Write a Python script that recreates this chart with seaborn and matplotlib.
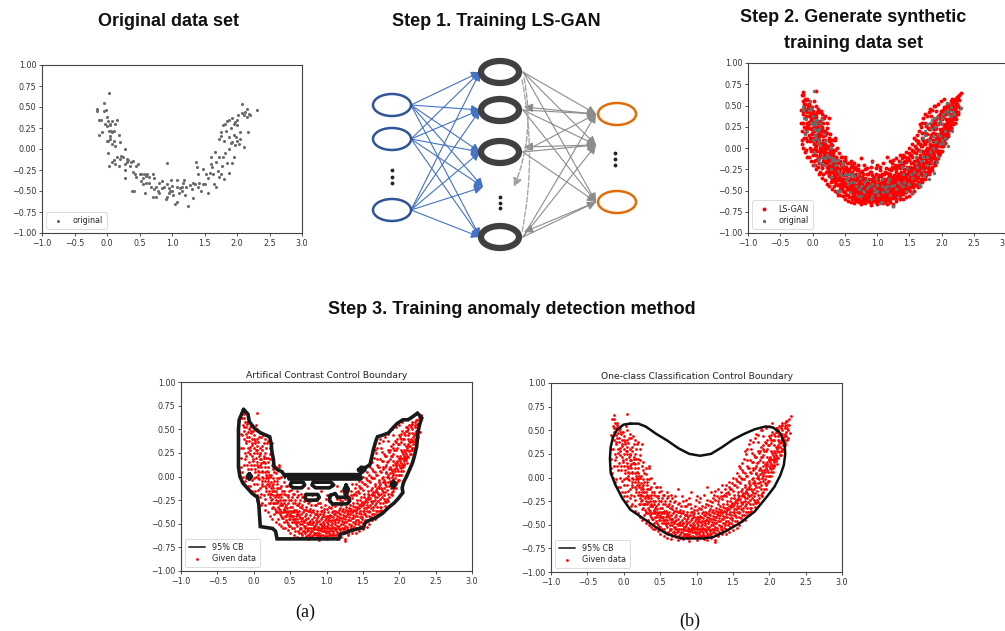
import numpy as np
import pandas as pd
import seaborn as sns
import matplotlib
matplotlib.use("Agg")
import matplotlib.pyplot as plt
from matplotlib.patches import Ellipse, FancyArrowPatch

# ---------------- data ----------------
orig_points = [
(-0.15,0.48),(-0.15,0.45),(-0.13,0.35),(-0.10,0.34),(-0.12,0.17),(-0.08,0.20),(-0.05,0.45),(-0.04,0.55),(-0.02,0.47),(0.00,0.38),
(0.03,0.67),(-0.03,0.30),(0.00,0.27),(0.02,0.33),(0.04,0.30),(0.05,0.28),(0.07,0.33),(0.03,0.22),(0.06,0.21),(0.08,0.20),
(0.04,0.15),(0.02,0.10),(0.00,0.10),(0.05,0.12),(0.10,0.10),(0.08,0.06),(0.12,0.04),(0.15,0.34),(0.18,0.17),(0.20,0.08),
(0.02,-0.05),(0.03,-0.20),(0.08,-0.15),(0.10,-0.13),(0.13,-0.18),(0.15,-0.10),(0.18,-0.20),(0.20,-0.12),(0.22,-0.08),(0.25,-0.10),
(0.27,-0.18),(0.28,-0.25),(0.28,-0.34),(0.30,-0.15),(0.28,0.00),(0.31,-0.12),(0.33,-0.13),(0.35,-0.20),(0.37,-0.15),(0.40,-0.14),
(0.38,-0.50),(0.42,-0.50),(0.40,-0.27),(0.43,-0.30),(0.45,-0.20),(0.45,-0.33),(0.48,-0.18),(0.50,-0.30),(0.52,-0.38),(0.53,-0.30),
(0.55,-0.35),(0.55,-0.42),(0.57,-0.30),(0.60,-0.32),(0.58,-0.52),(0.62,-0.30),(0.65,-0.33),(0.65,-0.40),(0.68,-0.45),(0.70,-0.30),
(0.70,-0.57),(0.72,-0.48),(0.73,-0.35),(0.75,-0.57),(0.75,-0.45),(0.78,-0.50),(0.80,-0.52),(0.80,-0.40),(0.85,-0.38),(0.88,-0.45),
(0.90,-0.60),(0.92,-0.42),(0.92,-0.57),(0.93,-0.17),(0.95,-0.47),(0.95,-0.52),(0.97,-0.50),(0.98,-0.37),(1.00,-0.50),(1.00,-0.44),
(1.02,-0.55),(1.05,-0.65),(1.07,-0.63),(1.07,-0.37),(1.08,-0.45),(1.10,-0.52),(1.12,-0.47),(1.15,-0.45),(1.17,-0.40),(1.18,-0.37),
(1.20,-0.55),(1.22,-0.45),(1.25,-0.68),(1.27,-0.43),(1.30,-0.48),(1.32,-0.40),(1.33,-0.58),(1.35,-0.42),(1.37,-0.16),(1.38,-0.22),
(1.40,-0.30),(1.42,-0.40),(1.45,-0.50),(1.47,-0.24),(1.48,-0.42),(1.50,-0.42),(1.52,-0.30),(1.55,-0.52),(1.55,-0.35),(1.58,-0.28),
(1.60,-0.10),(1.60,-0.18),(1.62,-0.22),(1.63,-0.30),(1.65,-0.42),(1.66,-0.04),(1.67,-0.45),(1.68,-0.15),(1.70,-0.26),(1.72,-0.10),
(1.73,-0.33),(1.75,0.15),(1.75,0.20),(1.77,-0.20),(1.78,-0.10),(1.78,0.28),(1.80,-0.36),(1.80,0.10),(1.82,0.30),(1.82,-0.05),
(1.83,0.22),(1.85,0.33),(1.85,-0.17),(1.87,0.00),(1.87,0.14),(1.88,0.35),(1.88,-0.29),(1.90,0.07),(1.90,0.25),(1.92,0.08),
(1.93,0.37),(1.93,-0.17),(1.95,0.17),(1.95,0.30),(1.97,0.05),(1.97,0.32),(2.00,0.28),(2.00,0.10),(2.02,0.40),(2.03,0.06),
(2.05,0.12),(2.05,0.20),(2.07,0.43),(2.08,0.53),(2.10,0.40),(2.10,0.02),(2.12,0.44),(2.15,0.48),(2.15,0.38),(2.17,0.20),
(2.18,0.42),(2.20,0.40),(2.30,0.47),(1.98,0.14),(2.00,0.35),(1.72,0.12),(1.75,-0.30),(1.95,-0.10),(0.10,0.22),(0.12,0.30),
(0.60,-0.40),(0.85,-0.47),(1.15,-0.50),(1.40,-0.45),
]

gan_points_a = [
(-0.16,0.62),(-0.15,0.55),(-0.14,0.66),(-0.13,0.48),(-0.12,0.58),(-0.14,0.40),
(-0.11,0.52),(-0.10,0.45),(-0.09,0.56),(-0.11,0.35),(-0.08,0.30),(-0.10,0.22),(-0.07,0.50),(-0.09,0.42),(-0.12,0.18),
(-0.06,0.38),(-0.05,0.28),(-0.04,0.46),(-0.06,0.15),(-0.03,0.33),(-0.05,0.52),(-0.04,0.08),(-0.02,0.22),(-0.06,0.42),(-0.03,0.40),
(0.00,0.30),(-0.01,0.18),(0.01,0.40),(0.02,0.05),(0.00,0.25),(0.01,0.12),(-0.01,0.48),(0.02,0.35),(0.00,-0.02),(0.03,0.20),(0.04,0.28),
(0.05,0.15),(0.06,0.02),(0.04,0.32),(0.07,0.22),(0.05,-0.08),(0.06,0.10),(0.08,0.30),(0.05,0.40),(0.07,0.05),(0.08,0.18),(0.06,-0.02),
(0.10,0.10),(0.11,0.00),(0.09,0.25),(0.12,-0.10),(0.10,0.18),(0.12,0.05),(0.11,-0.05),(0.13,0.15),(0.09,-0.12),(0.12,0.28),
(0.15,0.05),(0.16,-0.05),(0.14,0.15),(0.17,-0.15),(0.15,-0.10),(0.16,0.10),(0.18,0.00),(0.14,-0.20),(0.17,0.20),(0.18,-0.08),
(0.20,-0.05),(0.21,-0.15),(0.19,0.05),(0.22,-0.22),(0.20,0.10),(0.23,0.00),(0.21,-0.10),(0.24,-0.18),(0.22,-0.28),(0.20,-0.02),
(0.25,-0.10),(0.26,-0.20),(0.24,0.02),(0.27,-0.28),(0.25,-0.15),(0.28,-0.05),(0.26,-0.32),(0.27,-0.12),(0.29,-0.22),(0.24,-0.06),
(0.30,-0.15),(0.31,-0.25),(0.32,-0.05),(0.33,-0.32),(0.30,-0.20),(0.34,-0.12),(0.31,-0.38),(0.33,-0.22),(0.35,0.10),(0.32,-0.28),
(0.35,-0.20),(0.36,-0.30),(0.37,-0.10),(0.38,-0.38),(0.36,-0.25),(0.39,-0.15),(0.37,-0.42),(0.38,-0.28),(0.35,-0.34),
(0.40,-0.25),(0.41,-0.35),(0.42,-0.15),(0.43,-0.42),(0.41,-0.28),(0.44,-0.20),(0.42,-0.48),(0.43,-0.32),(0.40,-0.38),(0.44,-0.10),
(0.45,-0.30),(0.46,-0.40),(0.47,-0.20),(0.48,-0.45),(0.46,-0.33),(0.49,-0.25),(0.47,-0.50),(0.48,-0.36),(0.45,-0.42),(0.49,-0.15),
(0.50,-0.32),(0.51,-0.42),(0.52,-0.22),(0.53,-0.48),(0.51,-0.36),(0.54,-0.28),(0.52,-0.55),(0.53,-0.38),(0.50,-0.45),(0.54,-0.18),
(0.55,-0.35),(0.56,-0.45),(0.57,-0.25),(0.58,-0.50),(0.56,-0.38),(0.59,-0.30),(0.57,-0.58),(0.58,-0.42),(0.55,-0.48),(0.59,-0.22),
(0.60,-0.38),(0.61,-0.48),(0.62,-0.28),(0.63,-0.55),(0.61,-0.40),(0.64,-0.32),(0.62,-0.60),(0.63,-0.44),(0.60,-0.52),(0.64,-0.25),
(0.65,-0.40),(0.66,-0.50),(0.67,-0.30),(0.68,-0.58),(0.66,-0.44),(0.69,-0.35),(0.67,-0.62),(0.68,-0.47),(0.65,-0.54),(0.69,-0.26),
(0.70,-0.42),(0.71,-0.52),(0.72,-0.32),(0.73,-0.58),(0.71,-0.46),(0.74,-0.37),(0.72,-0.63),(0.73,-0.49),(0.70,-0.55),(0.74,-0.28),
(0.75,-0.44),(0.76,-0.54),(0.77,-0.34),(0.78,-0.60),(0.76,-0.48),(0.79,-0.38),(0.77,-0.64),(0.78,-0.50),(0.75,-0.57),(0.79,-0.30),
(0.80,-0.45),(0.81,-0.55),(0.82,-0.35),(0.83,-0.60),(0.81,-0.48),(0.84,-0.40),(0.82,-0.62),(0.83,-0.52),(0.80,-0.58),(0.84,-0.30),
(0.85,-0.46),(0.86,-0.56),(0.87,-0.36),(0.88,-0.62),(0.86,-0.50),(0.89,-0.42),(0.87,-0.60),(0.88,-0.53),(0.85,-0.40),(0.89,-0.28),
(0.90,-0.47),(0.91,-0.57),(0.92,-0.37),(0.93,-0.62),(0.91,-0.50),(0.94,-0.43),(0.92,-0.55),(0.93,-0.32),(0.90,-0.60),(0.94,-0.52),
(0.95,-0.48),(0.96,-0.58),(0.97,-0.38),(0.98,-0.63),(0.96,-0.52),(0.99,-0.44),(0.97,-0.55),(0.98,-0.30),(0.95,-0.40),(0.99,-0.60),
(1.00,-0.48),(1.01,-0.58),(1.02,-0.38),(1.03,-0.62),(1.01,-0.52),(1.04,-0.44),(1.02,-0.55),(1.03,-0.32),(1.00,-0.42),(1.04,-0.60),
(1.05,-0.47),(1.06,-0.57),(1.07,-0.38),(1.08,-0.62),(1.06,-0.51),(1.09,-0.43),(1.07,-0.55),(1.08,-0.30),(1.05,-0.41),(1.09,-0.60),
(1.10,-0.46),(1.11,-0.56),(1.12,-0.36),(1.13,-0.62),(1.11,-0.50),(1.14,-0.42),(1.12,-0.54),(1.13,-0.28),(1.10,-0.40),(1.14,-0.59),
(1.15,-0.45),(1.16,-0.55),(1.17,-0.35),(1.18,-0.60),(1.16,-0.48),(1.19,-0.40),(1.17,-0.52),(1.18,-0.25),(1.15,-0.38),(1.19,-0.57),
(1.20,-0.44),(1.21,-0.54),(1.22,-0.34),(1.23,-0.58),(1.21,-0.47),(1.24,-0.38),(1.22,-0.50),(1.23,-0.22),(1.20,-0.30),(1.24,-0.56),
(1.25,-0.42),(1.26,-0.52),(1.27,-0.32),(1.28,-0.56),(1.26,-0.45),(1.29,-0.36),(1.27,-0.48),(1.28,-0.20),(1.25,-0.66),(1.29,-0.28),
(1.30,-0.40),(1.31,-0.50),(1.32,-0.30),(1.33,-0.55),(1.31,-0.43),(1.34,-0.34),(1.32,-0.46),(1.33,-0.20),(1.30,-0.25),(1.34,-0.52),
(1.35,-0.38),(1.36,-0.48),(1.37,-0.28),(1.38,-0.53),(1.36,-0.41),(1.39,-0.32),(1.37,-0.44),(1.38,-0.18),(1.35,-0.23),(1.39,-0.50),
(1.40,-0.36),(1.41,-0.46),(1.42,-0.25),(1.43,-0.50),(1.41,-0.39),(1.44,-0.30),(1.42,-0.42),(1.43,-0.15),(1.40,-0.20),(1.44,-0.48),
(1.45,-0.33),(1.46,-0.43),(1.47,-0.22),(1.48,-0.48),(1.46,-0.36),(1.49,-0.27),(1.47,-0.40),(1.48,-0.12),(1.45,-0.17),(1.49,-0.45),
(1.50,-0.30),(1.51,-0.40),(1.52,-0.18),(1.53,-0.46),(1.51,-0.33),(1.54,-0.24),(1.52,-0.36),(1.53,-0.08),(1.50,-0.14),(1.54,-0.42),
(1.55,-0.27),(1.56,-0.37),(1.57,-0.15),(1.58,-0.42),(1.56,-0.30),(1.59,-0.20),(1.57,-0.32),(1.58,-0.05),(1.55,-0.10),(1.59,-0.38),
(1.60,-0.23),(1.61,-0.33),(1.62,-0.12),(1.63,-0.40),(1.61,-0.26),(1.64,-0.16),(1.62,-0.28),(1.63,-0.02),(1.60,-0.06),(1.64,-0.35),
(1.65,-0.20),(1.66,-0.30),(1.67,-0.08),(1.68,-0.36),(1.66,-0.22),(1.69,-0.12),(1.67,-0.25),(1.68,0.02),(1.65,-0.02),(1.69,-0.32),
(1.70,-0.16),(1.71,-0.26),(1.72,-0.04),(1.73,-0.32),(1.71,-0.18),(1.74,-0.08),(1.72,-0.20),(1.73,0.06),(1.70,0.02),(1.74,-0.28),(1.72,0.10),
(1.75,-0.12),(1.76,-0.22),(1.77,0.00),(1.78,-0.28),(1.76,-0.14),(1.79,-0.04),(1.77,-0.16),(1.78,0.10),(1.75,0.05),(1.79,-0.24),(1.77,0.16),
(1.80,-0.06),(1.81,-0.16),(1.82,0.05),(1.83,-0.24),(1.81,-0.08),(1.84,0.02),(1.82,-0.10),(1.83,0.15),(1.80,0.10),(1.84,-0.18),(1.82,0.22),
(1.85,0.00),(1.86,-0.10),(1.87,0.10),(1.88,-0.18),(1.86,-0.02),(1.89,0.08),(1.87,-0.05),(1.88,0.22),(1.85,0.16),(1.89,-0.12),(1.87,0.28),
(1.90,0.06),(1.91,-0.04),(1.92,0.16),(1.93,-0.12),(1.91,0.04),(1.94,0.14),(1.92,0.02),(1.93,0.28),(1.90,0.22),(1.94,-0.06),(1.92,0.34),
(1.95,0.12),(1.96,0.02),(1.97,0.22),(1.98,-0.04),(1.96,0.10),(1.99,0.20),(1.97,0.08),(1.98,0.34),(1.95,0.28),(1.99,0.02),(1.97,0.40),
(2.00,0.18),(2.01,0.10),(2.02,0.28),(2.02,0.06),(2.01,0.16),(2.04,0.26),(2.02,0.14),(2.03,0.40),(2.00,0.34),(2.03,0.09),(2.02,0.45),
(2.05,0.24),(2.06,0.16),(2.07,0.34),(2.07,0.13),(2.06,0.22),(2.09,0.32),(2.07,0.20),(2.08,0.44),(2.05,0.40),(2.09,0.48),
(2.10,0.30),(2.11,0.22),(2.12,0.40),(2.12,0.21),(2.11,0.28),(2.14,0.38),(2.12,0.50),(2.13,0.46),(2.10,0.52),
(2.15,0.36),(2.16,0.28),(2.17,0.46),(2.18,0.30),(2.16,0.54),(2.19,0.42),(2.17,0.56),(2.18,0.50),
(2.20,0.44),(2.21,0.36),(2.22,0.52),(2.21,0.58),(2.23,0.48),(2.22,0.40),(2.24,0.56),
(2.26,0.50),(2.28,0.47),(2.30,0.65),(2.25,0.60),
(0.05,0.67),(0.35,0.12),(0.93,-0.15),(1.25,-0.68),
]

gan_points_b = [
(-0.145,0.30),(-0.135,0.52),(-0.155,0.44),(-0.125,0.25),(-0.14,0.62),
(-0.095,0.12),(-0.085,0.26),(-0.105,0.38),(-0.075,0.47),(-0.09,0.58),(-0.08,0.08),
(-0.045,0.00),(-0.035,0.12),(-0.055,0.24),(-0.025,0.35),(-0.04,0.48),(-0.03,-0.04),(-0.05,0.31),
(0.005,-0.08),(0.015,0.08),(-0.005,0.16),(0.025,0.28),(0.01,0.44),(0.035,0.00),(0.02,0.38),(0.045,0.12),
(0.055,-0.14),(0.065,0.06),(0.045,0.25),(0.075,-0.03),(0.06,0.36),(0.085,0.12),(0.07,0.42),(0.09,0.24),
(0.105,-0.18),(0.115,0.06),(0.095,0.14),(0.125,-0.02),(0.11,0.32),(0.135,0.20),(0.12,-0.08),(0.14,0.35),
(0.155,-0.24),(0.165,0.02),(0.145,0.22),(0.175,-0.12),(0.16,0.14),(0.185,0.06),(0.17,-0.02),(0.19,-0.18),
(0.205,-0.28),(0.215,-0.08),(0.195,0.15),(0.225,-0.18),(0.21,0.02),(0.235,-0.12),(0.22,0.18),(0.24,-0.25),
(0.255,-0.33),(0.265,-0.02),(0.245,-0.24),(0.275,-0.15),(0.26,0.08),(0.285,-0.28),(0.27,-0.08),(0.29,-0.34),
(0.305,-0.36),(0.315,-0.08),(0.295,-0.28),(0.325,-0.18),(0.31,0.04),(0.335,-0.26),(0.32,-0.12),(0.34,-0.38),
(0.355,-0.40),(0.365,-0.12),(0.345,-0.02),(0.375,-0.22),(0.36,-0.35),(0.385,-0.30),(0.37,-0.18),(0.39,-0.44),
(0.405,-0.44),(0.415,-0.18),(0.395,-0.30),(0.425,-0.25),(0.41,-0.06),(0.435,-0.38),(0.42,-0.34),(0.44,-0.46),
(0.455,-0.48),(0.465,-0.22),(0.445,-0.36),(0.475,-0.28),(0.46,-0.10),(0.485,-0.42),(0.47,-0.38),(0.49,-0.52),
(0.505,-0.52),(0.515,-0.25),(0.495,-0.40),(0.525,-0.32),(0.51,-0.14),(0.535,-0.45),(0.52,-0.42),(0.54,-0.36),
(0.555,-0.55),(0.565,-0.28),(0.545,-0.42),(0.575,-0.35),(0.56,-0.18),(0.585,-0.48),(0.57,-0.45),(0.59,-0.40),
(0.605,-0.58),(0.615,-0.30),(0.595,-0.45),(0.625,-0.36),(0.61,-0.20),(0.635,-0.50),(0.62,-0.42),(0.64,-0.56),
(0.655,-0.60),(0.665,-0.33),(0.645,-0.47),(0.675,-0.38),(0.66,-0.22),(0.685,-0.52),(0.67,-0.44),(0.69,-0.58),
(0.705,-0.60),(0.715,-0.35),(0.695,-0.48),(0.725,-0.40),(0.71,-0.25),(0.735,-0.54),(0.72,-0.45),(0.74,-0.62),
(0.755,-0.62),(0.765,-0.37),(0.745,-0.50),(0.775,-0.41),(0.76,-0.27),(0.785,-0.55),(0.77,-0.47),(0.79,-0.58),
(0.805,-0.63),(0.815,-0.38),(0.795,-0.50),(0.825,-0.43),(0.81,-0.25),(0.835,-0.56),(0.82,-0.48),(0.84,-0.60),
(0.855,-0.62),(0.865,-0.40),(0.845,-0.52),(0.875,-0.44),(0.86,-0.30),(0.885,-0.57),(0.87,-0.48),(0.89,-0.64),
(0.905,-0.63),(0.915,-0.40),(0.895,-0.54),(0.925,-0.45),(0.91,-0.28),(0.935,-0.58),(0.92,-0.50),(0.94,-0.36),
(0.955,-0.62),(0.965,-0.42),(0.945,-0.55),(0.975,-0.46),(0.96,-0.34),(0.985,-0.58),(0.97,-0.50),(0.99,-0.24),
(1.005,-0.63),(1.015,-0.42),(0.995,-0.55),(1.025,-0.46),(1.01,-0.34),(1.035,-0.58),(1.02,-0.50),(1.04,-0.26),
(1.055,-0.62),(1.065,-0.42),(1.045,-0.54),(1.075,-0.46),(1.06,-0.33),(1.085,-0.58),(1.07,-0.49),(1.09,-0.36),
(1.105,-0.62),(1.115,-0.40),(1.095,-0.53),(1.125,-0.45),(1.11,-0.31),(1.135,-0.57),(1.12,-0.48),(1.14,-0.24),
(1.155,-0.61),(1.165,-0.39),(1.145,-0.52),(1.175,-0.43),(1.16,-0.29),(1.185,-0.56),(1.17,-0.46),(1.19,-0.33),
(1.205,-0.60),(1.215,-0.37),(1.195,-0.50),(1.225,-0.41),(1.21,-0.26),(1.235,-0.55),(1.22,-0.44),(1.24,-0.18),
(1.255,-0.59),(1.265,-0.35),(1.245,-0.48),(1.275,-0.39),(1.26,-0.24),(1.285,-0.53),(1.27,-0.42),(1.29,-0.60),
(1.305,-0.58),(1.315,-0.33),(1.295,-0.46),(1.325,-0.37),(1.31,-0.22),(1.335,-0.51),(1.32,-0.40),(1.34,-0.15),
(1.355,-0.56),(1.365,-0.31),(1.345,-0.44),(1.375,-0.35),(1.36,-0.20),(1.385,-0.48),(1.37,-0.37),(1.39,-0.12),
(1.405,-0.54),(1.415,-0.28),(1.395,-0.42),(1.425,-0.32),(1.41,-0.16),(1.435,-0.46),(1.42,-0.34),(1.44,-0.10),
(1.455,-0.52),(1.465,-0.25),(1.445,-0.39),(1.475,-0.29),(1.46,-0.12),(1.485,-0.43),(1.47,-0.31),(1.49,-0.06),
(1.505,-0.50),(1.515,-0.22),(1.495,-0.36),(1.525,-0.26),(1.51,-0.08),(1.535,-0.40),(1.52,-0.28),(1.54,-0.02),
(1.555,-0.46),(1.565,-0.18),(1.545,-0.33),(1.575,-0.22),(1.56,-0.04),(1.585,-0.36),(1.57,-0.24),(1.59,0.02),
(1.605,-0.43),(1.615,-0.14),(1.595,-0.30),(1.625,-0.18),(1.61,0.00),(1.635,-0.32),(1.62,-0.20),(1.64,0.06),
(1.655,-0.40),(1.665,-0.10),(1.645,-0.26),(1.675,-0.14),(1.66,0.05),(1.685,-0.28),(1.67,-0.16),(1.69,0.12),
(1.705,-0.36),(1.715,-0.06),(1.695,-0.22),(1.725,-0.10),(1.71,0.10),(1.735,-0.24),(1.72,-0.12),(1.74,0.18),
(1.755,-0.32),(1.765,-0.02),(1.745,-0.18),(1.775,-0.06),(1.76,0.16),(1.785,-0.20),(1.77,0.08),(1.79,0.24),
(1.805,-0.26),(1.815,0.04),(1.795,-0.12),(1.825,0.00),(1.81,0.22),(1.835,-0.14),(1.82,0.12),(1.84,0.28),
(1.855,-0.22),(1.865,0.08),(1.845,-0.06),(1.875,0.04),(1.86,0.26),(1.885,-0.08),(1.87,0.18),(1.89,0.32),
(1.905,-0.16),(1.915,0.12),(1.895,0.00),(1.925,0.08),(1.91,0.30),(1.935,-0.02),(1.92,0.24),(1.94,0.38),
(1.955,-0.08),(1.965,0.16),(1.945,0.06),(1.975,0.14),(1.96,0.36),(1.985,0.06),(1.97,0.30),(1.99,0.44),
(2.00,0.02),(2.015,0.22),(1.995,0.12),(2.025,0.20),(2.01,0.42),(2.035,0.12),(2.02,0.36),(2.04,0.48),
(2.045,0.10),(2.065,0.28),(2.045,0.18),(2.075,0.26),(2.06,0.46),(2.085,0.20),(2.07,0.40),(2.09,0.52),
(2.095,0.17),(2.115,0.34),(2.095,0.24),(2.125,0.32),(2.11,0.48),(2.135,0.27),(2.12,0.44),(2.14,0.55),
(2.155,0.24),(2.165,0.40),(2.145,0.32),(2.175,0.38),(2.16,0.52),(2.185,0.34),(2.17,0.58),
(2.205,0.30),(2.215,0.46),(2.195,0.38),(2.225,0.44),(2.21,0.54),(2.235,0.60),
(2.255,0.42),(2.265,0.56),(2.245,0.52),(2.275,0.62),
]

gan_points_c = [
(0.15,0.25),(0.20,0.20),(0.22,0.30),(0.25,0.12),(0.28,0.05),(0.30,0.10),(0.18,0.35),(0.10,0.42),(0.05,0.50),(0.15,0.40),
(0.32,-0.02),(0.38,0.00),(0.25,0.35),(0.20,0.38),(0.13,0.44),(0.23,0.24),(0.27,0.16),(0.17,0.30),(0.08,0.46),(0.03,0.55),
(-0.18,0.30),(-0.17,0.10),(-0.15,0.00),(-0.12,-0.05),(-0.08,-0.10),(-0.02,-0.15),(0.00,-0.20),(0.05,-0.25),(0.10,-0.30),(0.15,-0.35),
(-0.18,0.45),(-0.17,0.20),(-0.10,-0.02),(-0.05,-0.10),(0.02,-0.15),(0.08,-0.22),(0.12,-0.28),(0.20,-0.38),(0.25,-0.45),(0.30,-0.48),
(-0.16,0.05),(-0.13,0.12),(0.04,-0.20),(0.16,-0.30),(0.22,-0.42),(0.28,-0.40),(0.33,-0.45),(0.38,-0.52),(0.43,-0.55),(0.47,-0.57),
(1.55,0.05),(1.60,0.10),(1.62,0.15),(1.65,0.20),(1.68,0.25),(1.70,0.30),(1.72,0.35),(1.75,0.30),(1.78,0.38),(1.80,0.42),
(1.85,0.45),(1.90,0.50),(1.95,0.52),(1.50,0.00),(1.45,-0.05),(1.40,-0.08),(1.58,0.12),(1.66,0.28),(1.74,0.40),(1.82,0.46),
(1.88,0.50),(1.63,0.08),(1.69,0.18),(1.76,0.26),(1.84,0.38),(1.92,0.44),(1.99,0.55),(2.04,0.58),
(2.00,-0.04),(2.05,0.06),(2.10,0.14),(2.15,0.24),(1.95,-0.12),(1.90,-0.20),(1.85,-0.26),(1.80,-0.31),(1.75,-0.35),(1.70,-0.40),
(1.66,-0.45),(1.58,-0.50),(1.50,-0.56),(1.40,-0.60),(2.07,0.12),(2.18,0.28),(2.22,0.34),(2.25,0.40),(2.02,0.02),(1.92,-0.15),
(1.82,-0.27),(1.74,-0.37),(1.63,-0.46),(1.55,-0.53),(1.45,-0.58),(1.97,-0.06),(2.09,0.20),
(0.60,-0.15),(0.70,-0.20),(0.80,-0.20),(0.90,-0.22),(1.00,-0.20),(1.10,-0.18),(1.20,-0.15),(1.30,-0.12),(0.50,-0.10),(1.35,-0.08),
(0.75,-0.12),(1.15,-0.10),(0.65,-0.18),(0.85,-0.24),(1.05,-0.22),(1.25,-0.14),
(0.50,-0.60),(0.55,-0.62),(0.65,-0.65),(0.75,-0.66),(0.90,-0.67),(1.00,-0.66),(1.10,-0.65),(1.20,-0.64),(1.30,-0.62),(0.40,-0.55),
(0.35,-0.50),(0.60,-0.64),(0.82,-0.65),(1.15,-0.66),(1.35,-0.60),
]

# (a) artificial-contrast boundary: outer contour and inner islands
acc_outer = [(-0.14,0.71),(-0.08,0.66),(-0.06,0.58),(0.00,0.52),(0.04,0.49),(0.10,0.46),(0.16,0.44),(0.22,0.42),(0.24,0.34),
    (0.25,0.26),(0.27,0.18),(0.28,0.10),(0.33,0.07),(0.39,0.05),(0.43,0.00),(0.45,0.02),(1.46,0.02),(1.48,0.09),(1.55,0.10),
    (1.60,0.13),(1.62,0.20),(1.65,0.30),(1.68,0.38),(1.70,0.42),(1.78,0.44),(1.85,0.46),(1.92,0.52),(1.97,0.56),(2.05,0.60),
    (2.12,0.60),(2.18,0.63),(2.25,0.67),(2.31,0.62),(2.28,0.55),(2.26,0.48),(2.25,0.40),(2.24,0.32),(2.21,0.22),(2.18,0.14),
    (2.14,0.07),(2.10,0.00),(2.06,-0.06),(2.04,-0.12),(2.05,-0.17),(1.99,-0.23),(1.93,-0.28),(1.85,-0.33),(1.77,-0.39),
    (1.69,-0.43),(1.60,-0.46),(1.53,-0.49),(1.51,-0.54),(1.40,-0.56),(1.30,-0.58),(1.25,-0.60),(1.19,-0.61),(1.17,-0.66),
    (0.32,-0.66),(0.30,-0.58),(0.26,-0.55),(0.09,-0.53),(0.08,-0.42),(0.07,-0.30),(0.05,-0.22),(-0.02,-0.18),(-0.08,-0.13),
    (-0.15,-0.07),(-0.19,0.00),(-0.21,0.10),(-0.21,0.30),(-0.21,0.50),(-0.20,0.60),(-0.14,0.71)]
acc_islands = [
    [(0.48,0.00),(1.48,0.00),(1.48,-0.03),(0.48,-0.03),(0.48,0.00)],
    [(0.52,-0.06),(0.68,-0.06),(0.70,-0.09),(0.66,-0.12),(0.54,-0.12),(0.50,-0.09),(0.52,-0.06)],
    [(0.82,-0.06),(1.06,-0.06),(1.10,-0.09),(1.04,-0.12),(0.85,-0.12),(0.80,-0.09),(0.82,-0.06)],
    [(0.72,-0.19),(0.88,-0.19),(0.90,-0.22),(0.87,-0.25),(0.73,-0.25),(0.70,-0.22),(0.72,-0.19)],
    [(1.05,-0.20),(1.12,-0.18),(1.15,-0.22),(1.30,-0.22),(1.32,-0.26),(1.28,-0.29),(1.08,-0.29),(1.04,-0.25),(1.05,-0.20)],
    [(1.27,-0.09),(1.30,-0.14),(1.27,-0.20),(1.24,-0.14),(1.27,-0.09)],
    [(-0.06,0.03),(-0.03,0.00),(-0.06,-0.03),(-0.09,0.00),(-0.06,0.03)],
    [(1.92,-0.05),(1.95,-0.08),(1.92,-0.12),(1.89,-0.08),(1.92,-0.05)],
    [(1.44,0.07),(1.48,0.10),(1.53,0.07),(1.48,0.04),(1.44,0.07)],
]
# (b) one-class classification boundary
occ_boundary = [(0.09,0.57),(0.20,0.57),(0.30,0.54),(0.45,0.46),(0.60,0.39),(0.75,0.31),(0.90,0.25),(1.05,0.23),(1.20,0.25),
    (1.35,0.32),(1.50,0.40),(1.65,0.46),(1.80,0.51),(1.95,0.54),(2.05,0.53),(2.15,0.47),(2.21,0.36),(2.22,0.25),(2.20,0.13),
    (2.15,0.02),(2.07,-0.10),(1.96,-0.21),(1.80,-0.36),(1.60,-0.48),(1.40,-0.57),(1.23,-0.63),(1.10,-0.645),(0.80,-0.645),
    (0.60,-0.60),(0.45,-0.53),(0.30,-0.45),(0.09,-0.34),(-0.02,-0.22),(-0.12,-0.07),(-0.18,0.05),(-0.19,0.20),(-0.18,0.32),
    (-0.15,0.42),(-0.09,0.51),(0.00,0.56),(0.09,0.57)]

x_ticks = [-1.0, -0.5, 0.0, 0.5, 1.0, 1.5, 2.0, 2.5, 3.0]
y_ticks = [-1.00, -0.75, -0.50, -0.25, 0.00, 0.25, 0.50, 0.75, 1.00]

# network diagram layout (figure pixels)
in_x, in_y = 392, [105, 139, 210]
hid_x, hid_y = 500, [72, 110, 152, 237]
out_x, out_y = 617, [114, 202]
blue_targets = [72, 110, 152, 187, 237]
gray_targets = [114, 145, 202]

# ---------------- figure ----------------
sns.set_theme(style="ticks")
plt.rcParams['font.family'] = ['DejaVu Sans']
W, H = 1005, 631
fig = plt.figure(figsize=(W/100, H/100), dpi=100)
fig.patch.set_facecolor('white')

orig = pd.DataFrame(orig_points, columns=['x', 'y'])
gan = pd.DataFrame(gan_points_a + gan_points_b + gan_points_c, columns=['x', 'y'])
GRAY = '#6b6b6b'

def px_axes(l, r, t, b):
    return fig.add_axes([l/W, 1 - b/H, (r-l)/W, (b-t)/H])

def style(ax):
    ax.set_xlim(-1, 3); ax.set_ylim(-1, 1)
    ax.set_xticks(x_ticks); ax.set_yticks(y_ticks)
    ax.tick_params(labelsize=5.8, length=2.5, width=0.6, colors='#333333', pad=1.5)
    for s in ax.spines.values():
        s.set_color('#444444'); s.set_linewidth(0.8)
    ax.set_xlabel(''); ax.set_ylabel('')
    ax.set_facecolor('white')

def legend(ax):
    lg = ax.legend(loc='lower left', fontsize=5.8, frameon=True, fancybox=True,
                   edgecolor='#cccccc', handletextpad=0.8, borderpad=0.5, labelspacing=0.3)
    lg.get_frame().set_linewidth(0.6)
    return lg

# overlay for diagram and texts
ov = fig.add_axes([0, 0, 1, 1], zorder=-1)
ov.set_xlim(0, W); ov.set_ylim(H, 0); ov.axis('off')

tfont = dict(family=['Liberation Sans', 'DejaVu Sans'], weight='bold', size=13, color='#111111')
ov.text(168, 22, 'Original data set', ha='center', va='center', **tfont)
ov.text(496, 22, 'Step 1. Training LS-GAN', ha='center', va='center', **tfont)
ov.text(853, 17, 'Step 2. Generate synthetic', ha='center', va='center', **tfont)
ov.text(853, 43, 'training data set', ha='center', va='center', **tfont)
ov.text(512, 309, 'Step 3. Training anomaly detection method', ha='center', va='center', **tfont)
sfont = dict(family=['Liberation Serif', 'DejaVu Serif'], size=13, color='#111111')
ov.text(305, 612, '(a)', ha='center', va='center', **sfont)
ov.text(690, 621, '(b)', ha='center', va='center', **sfont)

# network diagram
BLUE_N, BLUE_E = '#2F5597', '#4472C4'
DARK, GREY_E, ORANGE = '#404040', '#8c8c8c', '#E36C09'
ew, eh = 38, 22
for yy in in_y:
    for ty in blue_targets:
        tx = 483 if ty == 187 else hid_x - ew/2 - 1
        ov.add_patch(FancyArrowPatch((in_x + ew/2, yy), (tx, ty), arrowstyle='-|>',
                     mutation_scale=13, color=BLUE_E, lw=0.8, shrinkA=0, shrinkB=0))
for yy in hid_y:
    for ty in gray_targets:
        ov.add_patch(FancyArrowPatch((hid_x + ew/2 + 4, yy), (out_x - ew/2 - 2, ty), arrowstyle='-|>',
                     mutation_scale=13, color=GREY_E, lw=0.8, shrinkA=0, shrinkB=0))
for (sy, ty) in [(114, 107), (145, 147), (202, 232)]:
    ov.add_patch(FancyArrowPatch((out_x - ew/2 - 2, sy), (hid_x + ew/2 + 5, ty), arrowstyle='-|>',
                 mutation_scale=13, color=GREY_E, lw=0.8, shrinkA=0, shrinkB=0))
ov.add_patch(FancyArrowPatch((524, 78), (514, 187), arrowstyle='-|>', connectionstyle='arc3,rad=-0.15',
             mutation_scale=13, color='#a0a0a0', lw=1.0, ls='--', shrinkA=0, shrinkB=0))
ov.add_patch(FancyArrowPatch((522, 80), (522, 232), arrowstyle='-', connectionstyle='arc3,rad=-0.1',
             color='#a8a8a8', lw=1.0, ls='--', shrinkA=0, shrinkB=0))
for yy in in_y:
    ov.add_patch(Ellipse((in_x, yy), ew, eh, fill=True, fc='white', ec=BLUE_N, lw=1.8, zorder=5))
for yy in hid_y:
    ov.add_patch(Ellipse((hid_x, yy), ew, eh, fill=True, fc='white', ec=DARK, lw=4.5, zorder=5))
for yy in out_y:
    ov.add_patch(Ellipse((out_x, yy), ew, eh, fill=True, fc='white', ec=ORANGE, lw=1.8, zorder=5))
for (dx, dys) in [(in_x, [170, 176.5, 183]), (hid_x, [197, 202.5, 208]), (out_x - 2, [153, 159, 165])]:
    ov.scatter([dx]*3, dys, s=3, color='#222222', zorder=6)

# Panel: original data set
ax1 = px_axes(42, 302, 65, 233)
sns.scatterplot(data=orig, x='x', y='y', ax=ax1, color=GRAY, s=5, linewidth=0, label='original')
style(ax1); legend(ax1)

# Panel: step 2
ax3 = px_axes(748, 1006, 63, 233)
sns.scatterplot(data=gan, x='x', y='y', ax=ax3, color='red', s=8, linewidth=0, label='LS-GAN')
sns.scatterplot(data=orig, x='x', y='y', ax=ax3, color=GRAY, s=6, linewidth=0, label='original')
style(ax3); legend(ax3)

# Panel (a)
axa = px_axes(181, 472, 382, 571)
ox, oy = zip(*acc_outer)
axa.plot(ox, oy, color='#1a1a1a', lw=2.6, label='95% CB', zorder=3, solid_joinstyle='miter')
for isl in acc_islands:
    ix, iy = zip(*isl)
    axa.plot(ix, iy, color='#1a1a1a', lw=2.6, zorder=3)
sns.scatterplot(data=gan, x='x', y='y', ax=axa, color='red', s=4, linewidth=0, label='Given data', zorder=2)
style(axa)
axa.set_title('Artifical Contrast Control Boundary', fontsize=6.6, pad=3, color='#222222')
lg = legend(axa)
lg.get_lines()[0].set_linewidth(1.4); lg.get_lines()[0].set_color('#444444')

# Panel (b)
axb = px_axes(551, 842, 383, 572)
bx, by = zip(*occ_boundary)
axb.plot(bx, by, color='#111111', lw=1.8, label='95% CB', zorder=3)
sns.scatterplot(data=gan, x='x', y='y', ax=axb, color='red', s=4, linewidth=0, label='Given data', zorder=2)
style(axb)
axb.set_title('One-class Classification Control Boundary', fontsize=6.6, pad=3, color='#222222')
lg = legend(axb)
lg.get_lines()[0].set_linewidth(1.4); lg.get_lines()[0].set_color('#444444')

fig.savefig('out.png', dpi=100, facecolor='white')
